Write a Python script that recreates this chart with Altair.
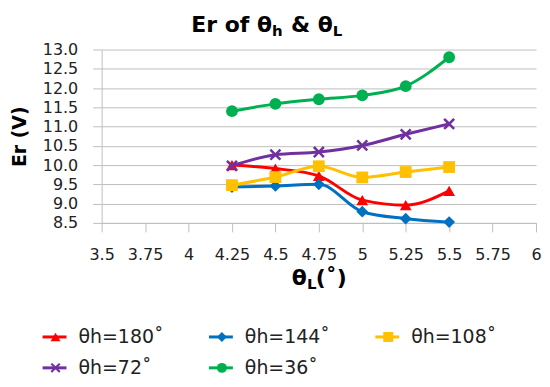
import altair as alt
import pandas as pd

# ---- data ----
theta_L = [4.25, 4.5, 4.75, 5.0, 5.25, 5.5]
series = ["θh=180˚", "θh=144˚", "θh=108˚", "θh=72˚", "θh=36˚"]
er_180 = [10.00, 9.91, 9.72, 9.09, 8.96, 9.33]
er_144 = [9.43, 9.46, 9.50, 8.79, 8.61, 8.52]
er_108 = [9.48, 9.69, 9.97, 9.68, 9.82, 9.95]
er_72 = [9.98, 10.27, 10.34, 10.51, 10.80, 11.07]
er_36 = [11.40, 11.59, 11.71, 11.81, 12.05, 12.80]
x_ticks = [3.5, 3.75, 4, 4.25, 4.5, 4.75, 5, 5.25, 5.5, 5.75, 6]
y_ticks = [8.5, 9.0, 9.5, 10.0, 10.5, 11.0, 11.5, 12.0, 12.5, 13.0]

colors = ["#ff0000", "#0070c0", "#ffc000", "#7030a0", "#00b050"]
xpath = "M-1,-0.7L-0.7,-1L0,-0.3L0.7,-1L1,-0.7L0.3,0L1,0.7L0.7,1L0,0.3L-0.7,1L-1,0.7L-0.3,0Z"
shapes = ["triangle-up", "diamond", "square", xpath, "circle"]

values = [er_180, er_144, er_108, er_72, er_36]
rows = []
for s, vals in zip(series, values):
    for x, v in zip(theta_L, vals):
        rows.append({"series": s, "theta_L": x, "er": v})
df = pd.DataFrame(rows)

FONT = "DejaVu Sans"
GRAY = "#bfbfbf"

color_enc = alt.Color("series:N", scale=alt.Scale(domain=series, range=colors), legend=None)
shape_enc = alt.Shape("series:N", scale=alt.Scale(domain=series, range=shapes), legend=None)

base = alt.Chart(df).encode(
    x=alt.X("theta_L:Q",
            scale=alt.Scale(domain=[3.5, 6], nice=False, zero=False),
            axis=alt.Axis(values=x_ticks, labelExpr="'' + datum.value", title=None,
                          grid=False, tickSize=9, tickColor=GRAY, domainColor=GRAY,
                          labelFlush=False, labelOverlap=False, labelFontSize=16,
                          labelPadding=15)),
    y=alt.Y("er:Q",
            scale=alt.Scale(domain=[8.5, 13], nice=False, zero=False),
            axis=alt.Axis(values=y_ticks, format=".1f", title="Er (V)", grid=True,
                          gridColor=GRAY, tickSize=9, tickColor=GRAY, domainColor=GRAY,
                          labelFontSize=16, labelPadding=15, titleFontSize=19,
                          titlePadding=13)),
    color=color_enc,
    detail="series:N",
)

lines = base.mark_line(interpolate="monotone", strokeWidth=3)
points = base.mark_point(filled=True, size=140, opacity=1).encode(shape=shape_enc)

# titles with real subscripts, built from text pieces
one = pd.DataFrame({"k": [0]})
def piece(text, x, y, size, align):
    return alt.Chart(one).mark_text(
        text=text, font=FONT, fontWeight="bold", fontSize=size, align=align,
        baseline="alphabetic", color="#000000"
    ).encode(x=alt.value(x), y=alt.value(y))

title_parts = [
    piece("Er of θ", 171, -18, 22, "right"),
    piece("h", 171, -14, 15, "left"),
    piece(" & θ", 232, -18, 22, "right"),
    piece("L", 232, -14, 15, "left"),
]
xtitle_parts = [
    piece("θ", 206, 236, 22, "right"),
    piece("L", 206, 240, 15, "left"),
    piece("(˚)", 215, 236, 22, "left"),
]

top = alt.layer(lines, points, *title_parts, *xtitle_parts).properties(width=436, height=174)

leg_df = pd.DataFrame({
    "series": series,
    "col": [i % 3 for i in range(len(series))],
    "row": [i // 3 for i in range(len(series))],
})
leg_base = alt.Chart(leg_df).encode(
    x=alt.X("col:Q", scale=alt.Scale(domain=[0.355, 2.966], nice=False, zero=False), axis=None),
    y=alt.Y("row:Q", scale=alt.Scale(domain=[-0.5, 1.306], reverse=True, nice=False, zero=False), axis=None),
    color=color_enc,
)
leg_rule = leg_base.mark_rule(strokeWidth=3, x2Offset=24).encode(x2="col:Q")
leg_pts = leg_base.mark_point(filled=True, size=100, opacity=1, xOffset=13).encode(shape=shape_enc)
leg_txt = leg_base.mark_text(align="left", baseline="middle", dx=36, fontSize=19,
                             font=FONT).encode(text="series:N", color=alt.value("#222222"))
legend = alt.layer(leg_rule, leg_pts, leg_txt).properties(width=436, height=56)

chart = alt.vconcat(top, legend, spacing=30).properties(
    padding={"left": 2, "top": 5, "right": 0, "bottom": 0},
).configure_view(stroke=None).configure_axis(
    labelFont=FONT, titleFont=FONT, labelColor="#222222", titleColor="#000000",
    titleFontWeight="bold",
)

chart.save("out.html", embed_options={"renderer": "svg", "actions": False})
